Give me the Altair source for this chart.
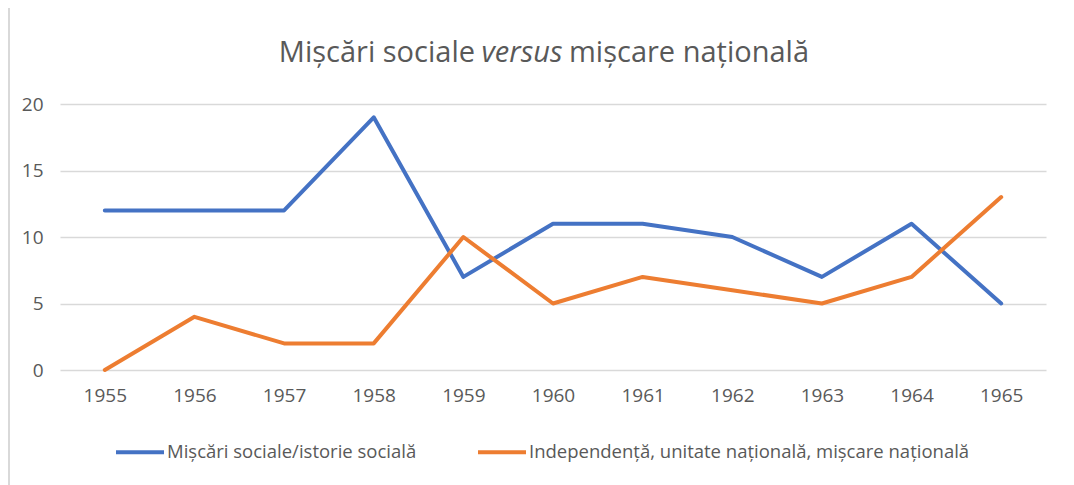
import altair as alt
import pandas as pd

years = ["1955", "1956", "1957", "1958", "1959", "1960", "1961", "1962", "1963", "1964", "1965"]
social = [12, 12, 12, 19, 7, 11, 11, 10, 7, 11, 5]
national = [0, 4, 2, 2, 10, 5, 7, 6, 5, 7, 13]
series_names = ["Mișcări sociale/istorie socială", "Independență, unitate națională, mișcare națională"]
colors = ["#4472C4", "#ED7D31"]
title_parts = ["Mișcări sociale", "versus", "mișcare națională"]

rows = []
for y, a, b in zip(years, social, national):
    rows.append({"year": y, "value": a, "series": series_names[0]})
    rows.append({"year": y, "value": b, "series": series_names[1]})
df = pd.DataFrame(rows)

FONT = "Open Sans"
GRAY = "#595959"

x = alt.X("year:O", scale=alt.Scale(type="point", padding=0.5), title=None,
          axis=alt.Axis(labelAngle=0, labelFont=FONT, labelFontSize=19, labelColor=GRAY,
                        labelPadding=16, ticks=False, domain=False, grid=False))
y = alt.Y("value:Q", scale=alt.Scale(domain=[0, 20], nice=False), title=None,
          axis=alt.Axis(values=[0, 5, 10, 15, 20], labelFont=FONT, labelFontSize=19, labelColor=GRAY,
                        labelPadding=17, ticks=False, domain=False, grid=True,
                        gridColor="#D9D9D9", gridWidth=1.5))
color = alt.Color("series:N", scale=alt.Scale(domain=series_names, range=colors), title=None,
                  legend=alt.Legend(orient="none", legendX=54, legendY=322, direction="horizontal",
                                    columns=2, columnPadding=53, symbolType="stroke",
                                    symbolSize=2304, symbolStrokeWidth=4, symbolOffset=0,
                                    labelOffset=1, labelFont=FONT, labelFontSize=18.5,
                                    labelColor=GRAY, labelLimit=600, padding=0))

lines = []
for s in series_names:
    lines.append(
        alt.Chart(df).transform_filter(alt.datum.series == s)
        .mark_line(strokeWidth=4, strokeCap="round", strokeJoin="round")
        .encode(x=x, y=y, color=color)
    )

tdf = pd.DataFrame({"t": [0]})
TS = 29
t1 = alt.Chart(tdf).mark_text(text=title_parts[0], font=FONT, fontSize=TS, color=GRAY,
                              align="right", baseline="alphabetic").encode(
    x=alt.value(415), y=alt.value(-42))
t2 = alt.Chart(tdf).mark_text(text=title_parts[1], font=FONT, fontSize=TS, color=GRAY,
                              fontStyle="italic", align="center", baseline="alphabetic").encode(
    x=alt.value(462), y=alt.value(-42))
t3 = alt.Chart(tdf).mark_text(text=title_parts[2], font=FONT, fontSize=TS, color=GRAY,
                              align="left", baseline="alphabetic").encode(
    x=alt.value(509), y=alt.value(-42))

frame = alt.Chart(tdf).mark_rule(color="#D9D9D9", strokeWidth=2).encode(
    x=alt.value(-51), y=alt.value(-96), y2=alt.value(381))

chart = alt.layer(frame, *lines, t1, t2, t3).properties(
    width=986, height=266,
    autosize=alt.AutoSizeParams(type="none"),
    padding={"left": 52, "top": 96, "right": 20, "bottom": 115},
).configure(background="white").configure_view(stroke=None, strokeWidth=0)

chart.save("out.html", embed_options={"renderer": "svg", "actions": False})
